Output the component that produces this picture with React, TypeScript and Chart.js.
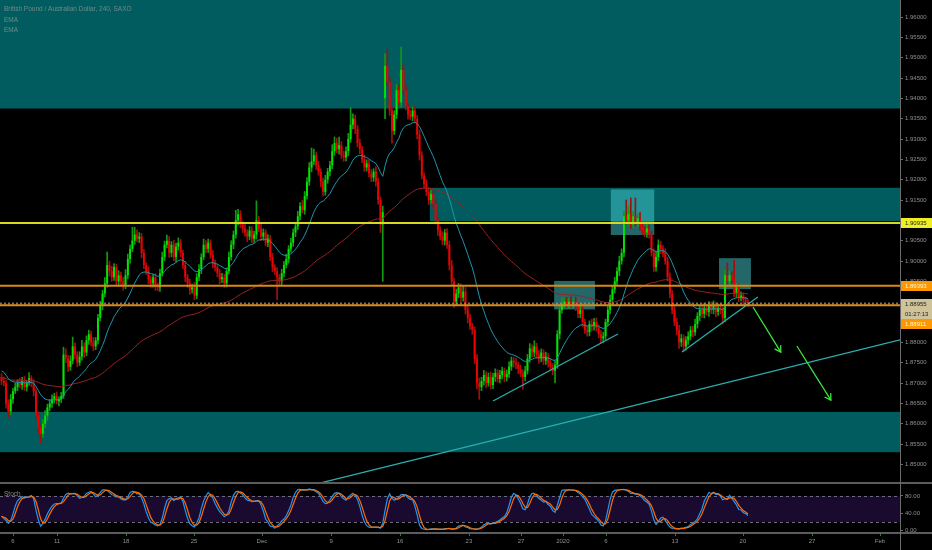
import React, { useEffect, useRef } from 'react';
import { Chart, registerables } from 'chart.js';
Chart.register(...registerables);

// ---------- data (4H GBP/AUD, SAXO) ----------
const FIRST_OPEN = 1.8715;
const CLOSES = [
  1.8705, 1.8700, 1.8650, 1.8630, 1.8660, 1.8680, 1.8690, 1.8700, 1.8695, 1.8705,
  1.8690, 1.8700, 1.8712, 1.8700, 1.8680, 1.8620, 1.8590, 1.8575, 1.8600, 1.8620,
  1.8640, 1.8650, 1.8660, 1.8668, 1.8655, 1.8660, 1.8668, 1.8770, 1.8760, 1.8740,
  1.8755, 1.8790, 1.8770, 1.8750, 1.8765, 1.8790, 1.8775, 1.8805, 1.8820, 1.8800,
  1.8790, 1.8805, 1.8860, 1.8890, 1.8920, 1.8945, 1.8990, 1.8975, 1.8960, 1.8985,
  1.8950, 1.8965, 1.8950, 1.8940, 1.8965, 1.9005, 1.9030, 1.9050, 1.9065, 1.9055,
  1.9060, 1.9020, 1.8990, 1.8975, 1.8955, 1.8945, 1.8960, 1.8940, 1.8935, 1.8970,
  1.9010, 1.9040, 1.9050, 1.9020, 1.9040, 1.9010, 1.9035, 1.9045, 1.9020, 1.8990,
  1.8960, 1.8945, 1.8930, 1.8935, 1.8915, 1.8960, 1.8980, 1.9010, 1.9040, 1.9030,
  1.9045, 1.9015, 1.8995, 1.8985, 1.8970, 1.8955, 1.8960, 1.8945, 1.8975, 1.9010,
  1.9040, 1.9065, 1.9100, 1.9115, 1.9090, 1.9080, 1.9070, 1.9060, 1.9075, 1.9055,
  1.9065, 1.9100, 1.9080, 1.9060, 1.9070, 1.9045, 1.9055, 1.9010, 1.8985, 1.8975,
  1.8960, 1.8950, 1.8970, 1.8990, 1.9005, 1.9030, 1.9045, 1.9070, 1.9085, 1.9110,
  1.9135, 1.9125, 1.9160, 1.9195, 1.9230, 1.9245, 1.9260, 1.9235, 1.9220, 1.9195,
  1.9170, 1.9200, 1.9220, 1.9235, 1.9270, 1.9290, 1.9275, 1.9285, 1.9260, 1.9255,
  1.9270, 1.9300, 1.9335, 1.9350, 1.9325, 1.9290, 1.9275, 1.9250, 1.9230, 1.9240,
  1.9215, 1.9205, 1.9220, 1.9195, 1.9150, 1.9090, 1.9120, 1.9480, 1.9440, 1.9370,
  1.9320, 1.9360, 1.9420, 1.9390, 1.9470, 1.9420, 1.9380, 1.9360, 1.9355, 1.9370,
  1.9350, 1.9310, 1.9260, 1.9210, 1.9190, 1.9170, 1.9150, 1.9165, 1.9140, 1.9100,
  1.9075, 1.9060, 1.9050, 1.9070, 1.9040, 1.8990, 1.8950, 1.8900, 1.8920, 1.8935,
  1.8910, 1.8925, 1.8880, 1.8860, 1.8840, 1.8830, 1.8760, 1.8700, 1.8690, 1.8705,
  1.8720, 1.8700, 1.8715, 1.8695, 1.8715, 1.8725, 1.8710, 1.8720, 1.8730, 1.8715,
  1.8722, 1.8740, 1.8755, 1.8750, 1.8745, 1.8735, 1.8725, 1.8715, 1.8730, 1.8760,
  1.8785, 1.8775, 1.8790, 1.8770, 1.8760, 1.8775, 1.8755, 1.8765, 1.8750, 1.8740,
  1.8730, 1.8745, 1.8820, 1.8880, 1.8895, 1.8900, 1.8895, 1.8900, 1.8895, 1.8900,
  1.8890, 1.8870, 1.8880, 1.8850, 1.8830, 1.8825, 1.8845, 1.8840, 1.8850, 1.8835,
  1.8820, 1.8810, 1.8815, 1.8850, 1.8880, 1.8905, 1.8930, 1.8950, 1.8975, 1.9000,
  1.9020, 1.9110, 1.9100, 1.9115, 1.9090, 1.9110, 1.9095, 1.9105, 1.9085, 1.9075,
  1.9070, 1.9080, 1.9065, 1.9020, 1.8985, 1.9010, 1.9040, 1.9030, 1.9020, 1.9000,
  1.8960, 1.8920, 1.8880, 1.8850, 1.8830, 1.8800, 1.8810, 1.8790, 1.8805, 1.8815,
  1.8830, 1.8825, 1.8845, 1.8865, 1.8880, 1.8870, 1.8885, 1.8875, 1.8890, 1.8880,
  1.8890, 1.8875, 1.8885, 1.8880, 1.8860, 1.8965, 1.8950, 1.8965, 1.8955, 1.8920,
  1.8935, 1.8910, 1.8915, 1.8905, 1.8900, 1.88955,
];
// wick lengths beyond the body, in pips
const UP_WICK_PIPS = [
  8,10,6,9,12,7,10,8,12,9, 11,7,14,6,8,5,9,7,10,12, 8,9,11,7,10,6,9,18,14,8,
  12,23,9,7,12,15,9,11,10,8, 12,7,9,11,8,14,32,10,12,9, 7,11,8,10,14,12,9,33,18,12,
  10,8,9,6,11,8,7,9,6,10, 12,9,14,10,8,11,9,12,8,6, 9,7,10,8,12,9,11,8,14,10,
  9,7,11,8,6,9,10,7,8,12, 10,9,25,12,9,8,11,7,10,9, 8,48,10,12,9,7,10,8,9,6,
  8,7,10,9,12,8,11,9,10,12, 9,14,11,10,12,33,15,8,10,7, 9,11,8,10,16,15,12,20,9,10,
  11,14,42,12,9,8,10,7,11,9, 8,10,7,12,9,8,15,30,40,12, 9,10,14,12,56,15,10,8,11,9,
  10,8,12,9,7,10,11,9,8,10, 7,9,12,8,10,9,12,8,11,10, 9,12,10,8,9,7,8,10,12,9,
  11,8,10,12,9,10,8,11,9,7, 10,12,9,8,10,7,9,8,11,10, 12,9,14,8,10,9,7,11,8,9,
  8,10,9,12,15,9,10,8,12,9, 11,8,10,9,7,10,8,12,9,10, 8,9,10,7,9,11,8,10,9,12,
  10,12,40,20,40,12,45,10,15,9, 10,12,9,8,10,14,12,9,8,10, 9,11,8,10,9,12,10,8,9,11,
  9,10,12,8,10,9,11,8,10,9, 12,8,10,9,7,12,30,10,9,47, 10,8,9,7,6,5,
];
const DOWN_WICK_PIPS = [
  9,7,12,15,8,10,6,9,7,11, 8,10,6,9,12,10,14,23,8,10, 12,8,10,9,7,11,8,6,10,12,
  9,8,11,10,7,9,12,8,10,9, 11,8,9,7,10,8,9,12,10,8, 11,9,10,12,8,9,10,7,9,8,
  10,12,9,8,11,10,9,12,8,10, 7,9,8,11,10,9,12,8,10,9, 11,10,12,9,10,8,9,11,7,10,
  9,8,12,10,9,11,8,10,9,7, 8,10,9,11,8,10,9,12,8,10, 9,11,8,10,9,8,10,9,11,8,
  55,10,8,9,7,10,8,9,10,8, 9,7,10,8,9,11,8,10,9,12, 10,8,9,11,8,10,9,12,8,10,
  9,11,8,10,12,9,11,8,10,9, 8,10,9,11,10,20,140,50,10,12, 30,9,10,8,12,10,9,11,8,10,
  9,10,12,8,10,9,11,8,10,9, 12,8,10,11,9,12,10,14,9,10, 11,9,10,12,8,10,12,15,30,9,
  10,12,8,10,9,11,8,10,9,12, 10,8,9,11,10,12,9,30,10,8, 9,11,10,9,12,8,10,9,11,8,
  10,30,9,12,8,10,9,11,8,10, 12,9,10,11,8,10,9,12,10,8, 9,11,10,8,9,10,12,9,10,11,
  8,10,9,12,10,8,9,11,10,9, 10,12,9,8,11,10,9,12,10,8, 9,11,10,9,12,15,10,12,9,10,
  9,11,8,10,12,9,10,8,11,9, 10,12,9,10,15,10,9,11,10,8, 9,10,8,11,9,7,
];
const GAP_OPENS: Record<number, number> = { 167: 1.9400 };
const PIP = 0.0001;

// x axis = bar index; date labels at session starts
const DATE_TICK_POS = [5.0, 24.2, 54.2, 83.8, 113.4, 143.5, 173.5, 203.5, 226.2, 244.4, 263.2, 293.2, 322.8, 352.9, 382.5];
const DATE_TICK_LABELS = ['6', '11', '18', '25', 'Dec', '9', '16', '23', '27', '2020', '6', '13', '20', '27', 'Feb'];
const PRICE_TICKS = [1.85, 1.855, 1.86, 1.865, 1.87, 1.875, 1.88, 1.885, 1.89, 1.895, 1.9, 1.905, 1.91, 1.915, 1.92, 1.925, 1.93, 1.935, 1.94, 1.945, 1.95, 1.955, 1.96];
const STOCH_TICKS = [0, 40, 80];
const STOCH_BAND = [20, 80];

const EMA_FAST = 20, EMA_SLOW = 100;
const EMA_FAST_SEED = 1.8732, EMA_SLOW_SEED = 1.8712;
const STOCH_K = 14, STOCH_SMOOTH = 3, STOCH_D = 3;

const LEVEL_YELLOW = 1.90935;
const LEVEL_ORANGE = [1.89393, 1.88911];
const COUNTDOWN = '01:27:13';

// [xStart, xEnd, low, high]
const ZONES = [
  [-5, 420, 1.9375, 1.975],
  [186.5, 420, 1.9098, 1.9180],
  [-5, 420, 1.8530, 1.8629],
];
const BOXES = [
  [240.6, 258.4, 1.8881, 1.8951],
  [265.3, 284.2, 1.9064, 1.9176],
  [312.4, 326.3, 1.8931, 1.9007],
];
const TREND_LINES = [
  [[130, 1.8442], [391.2, 1.8806]],
  [[214.0, 1.86558], [268.4, 1.88206]],
  [[296.3, 1.87763], [329.3, 1.89115]],
];
const ARROWS = [
  [[327.2, 1.8887], [339.3, 1.8776]],
  [[346.3, 1.8791], [361.1, 1.8658]],
];

const X_MIN = -0.65, X_MAX = 391.2;
const Y_MIN = 1.84542, Y_MAX = 1.96418;
const S_MIN = -5.4, S_MAX = 110;

// ---------- derived ----------
const OPENS = CLOSES.map((c, i) => GAP_OPENS[i] ?? (i === 0 ? FIRST_OPEN : CLOSES[i - 1]));
const HIGHS = CLOSES.map((c, i) => Math.max(OPENS[i], c) + UP_WICK_PIPS[i] * PIP);
const LOWS = CLOSES.map((c, i) => Math.min(OPENS[i], c) - DOWN_WICK_PIPS[i] * PIP);

function ema(vals: number[], period: number, seed: number) {
  const k = 2 / (period + 1);
  let e = seed;
  return vals.map((v) => (e += k * (v - e)));
}
function sma(a: number[], n: number) {
  return a.map((_, i) => {
    const s = Math.max(0, i - n + 1);
    let t = 0;
    for (let j = s; j <= i; j++) t += a[j];
    return t / (i - s + 1);
  });
}
function rawStoch(c: number[], h: number[], l: number[], n: number) {
  return c.map((v, i) => {
    const s = Math.max(0, i - n + 1);
    let hh = -Infinity, ll = Infinity;
    for (let j = s; j <= i; j++) { hh = Math.max(hh, h[j]); ll = Math.min(ll, l[j]); }
    return hh > ll ? (100 * (v - ll)) / (hh - ll) : 50;
  });
}

const FONT = '"Liberation Sans", Arial, sans-serif';
const UP_BODY = '#00e600', DN_BODY = '#f00000';
const UP_WICK = '#109a10', DN_WICK = '#a01010';

const decor = {
  id: 'decor',
  beforeDraw(chart: any) {
    const { ctx, width, height } = chart;
    ctx.save();
    ctx.fillStyle = '#000';
    ctx.fillRect(0, 0, width, height);
    ctx.restore();
  },
  beforeDatasetsDraw(chart: any) {
    const { ctx } = chart;
    const x = chart.scales.x, y = chart.scales.y, s = chart.scales.ys;
    ctx.save();
    ctx.beginPath();
    ctx.rect(x.left, y.top, x.right - x.left, y.bottom - y.top);
    ctx.clip();
    const rect = (b: number[], color: string) => {
      const x0 = x.getPixelForValue(b[0]), x1 = x.getPixelForValue(b[1]);
      const y0 = y.getPixelForValue(b[3]), y1 = y.getPixelForValue(b[2]);
      ctx.fillStyle = color;
      ctx.fillRect(x0, y0, x1 - x0, y1 - y0);
    };
    ZONES.forEach((z) => rect(z, 'rgb(0,92,94)'));
    BOXES.forEach((b) => rect(b, 'rgba(70,205,210,0.5)'));
    ctx.restore();

    ctx.save();
    const b80 = s.getPixelForValue(STOCH_BAND[1]), b20 = s.getPixelForValue(STOCH_BAND[0]);
    ctx.fillStyle = 'rgb(27,10,48)';
    ctx.fillRect(x.left, b80, x.right - x.left, b20 - b80);
    ctx.strokeStyle = '#6e6e78';
    ctx.lineWidth = 1;
    ctx.setLineDash([3, 3]);
    [b80, b20].forEach((yy) => {
      ctx.beginPath();
      ctx.moveTo(x.left, Math.round(yy) + 0.5);
      ctx.lineTo(x.right, Math.round(yy) + 0.5);
      ctx.stroke();
    });
    ctx.restore();
  },
  afterDatasetsDraw(chart: any) {
    const { ctx } = chart;
    const x = chart.scales.x, y = chart.scales.y;
    ctx.save();
    ctx.beginPath();
    ctx.rect(x.left, y.top, x.right - x.left, y.bottom - y.top);
    ctx.clip();
    const hline = (v: number, color: string, w: number, dash: number[]) => {
      const yy = y.getPixelForValue(v);
      ctx.strokeStyle = color;
      ctx.lineWidth = w;
      ctx.setLineDash(dash);
      ctx.beginPath();
      ctx.moveTo(x.left, yy);
      ctx.lineTo(x.right, yy);
      ctx.stroke();
    };
    hline(CLOSES[CLOSES.length - 1], 'rgba(150,150,150,0.75)', 2, [2, 2]);
    hline(LEVEL_YELLOW, '#d8d820', 2, []);
    LEVEL_ORANGE.forEach((v) => hline(v, '#d98a14', 2, []));
    ctx.setLineDash([]);
    // arrow heads
    chart.data.datasets.forEach((ds: any, i: number) => {
      if (!String(ds.label).startsWith('arrow')) return;
      const pts = chart.getDatasetMeta(i).data;
      const p0 = pts[0], p1 = pts[1];
      const a = Math.atan2(p1.y - p0.y, p1.x - p0.x);
      const L = 7;
      ctx.strokeStyle = ds.borderColor;
      ctx.lineWidth = 1.3;
      ctx.beginPath();
      ctx.moveTo(p1.x + L * Math.cos(a + 2.6), p1.y + L * Math.sin(a + 2.6));
      ctx.lineTo(p1.x, p1.y);
      ctx.lineTo(p1.x + L * Math.cos(a - 2.6), p1.y + L * Math.sin(a - 2.6));
      ctx.stroke();
    });
    ctx.restore();
  },
  afterDraw(chart: any) {
    const { ctx, width, height } = chart;
    const x = chart.scales.x, y = chart.scales.y, s = chart.scales.ys;
    ctx.save();
    // panel separators
    ctx.strokeStyle = '#5c5c5c';
    ctx.lineWidth = 2;
    [y.bottom, s.bottom].forEach((yy) => {
      ctx.beginPath();
      ctx.moveTo(0, yy);
      ctx.lineTo(width, yy);
      ctx.stroke();
    });
    ctx.lineWidth = 1;
    ctx.strokeStyle = '#6b6b6b';
    ctx.beginPath();
    ctx.moveTo(x.right + 0.5, 0);
    ctx.lineTo(x.right + 0.5, height);
    ctx.stroke();
    // time tick marks
    ctx.fillStyle = '#2f7f2f';
    DATE_TICK_POS.forEach((v) => ctx.fillRect(Math.round(x.getPixelForValue(v)), s.bottom + 1, 1, 2));

    // price tags
    ctx.font = `6px ${FONT}`;
    ctx.textBaseline = 'middle';
    ctx.textAlign = 'left';
    const tag = (yy: number, text: string, bg: string, fg: string) => {
      ctx.fillStyle = bg;
      ctx.fillRect(x.right + 1, Math.round(yy) - 5, width - x.right - 1, 10);
      ctx.fillStyle = fg;
      ctx.fillText(text, x.right + 5, Math.round(yy));
    };
    tag(y.getPixelForValue(LEVEL_YELLOW), LEVEL_YELLOW.toFixed(5), '#eeee22', '#222');
    tag(y.getPixelForValue(LEVEL_ORANGE[0]), LEVEL_ORANGE[0].toFixed(5), '#ff9800', '#fff8d0');
    const last = CLOSES[CLOSES.length - 1];
    const cy = y.getPixelForValue(last);
    tag(cy, last.toFixed(5), '#cfc39a', '#222');
    tag(cy + 10, COUNTDOWN, '#cfc39a', '#222');
    tag(Math.max(y.getPixelForValue(LEVEL_ORANGE[1]), cy + 20), LEVEL_ORANGE[1].toFixed(5), '#ff9800', '#fff8d0');

    // legend texts
    ctx.fillStyle = 'rgba(135,145,145,0.85)';
    ctx.font = `6.5px ${FONT}`;
    ctx.fillText('British Pound / Australian Dollar, 240, SAXO', 4, 9.5);
    ctx.fillText('EMA', 4, 20);
    ctx.fillText('EMA', 4, 30);
    ctx.fillStyle = '#8a8a8a';
    ctx.fillText('Stoch', 4, s.top + 11);
    ctx.restore();
  },
};

export default function App() {
  const ref = useRef<HTMLCanvasElement>(null);
  useEffect(() => {
    document.body.style.margin = '0';
    document.body.style.background = '#000';
    const emaFast = ema(CLOSES, EMA_FAST, EMA_FAST_SEED);
    const emaSlow = ema(CLOSES, EMA_SLOW, EMA_SLOW_SEED);
    const k = sma(rawStoch(CLOSES, HIGHS, LOWS, STOCH_K), STOCH_SMOOTH);
    const d = sma(k, STOCH_D);
    const up = CLOSES.map((c, i) => c >= OPENS[i]);

    const line = (pts: number[][], color: string, label: string, order: number, w = 1.2) => ({
      type: 'line' as const,
      label,
      data: pts.map((p) => ({ x: p[0], y: p[1] })),
      borderColor: color,
      borderWidth: w,
      pointRadius: 0,
      yAxisID: 'y',
      order,
    });

    const chart = new Chart(ref.current as HTMLCanvasElement, {
      type: 'bar',
      data: {
        datasets: [
          {
            type: 'bar',
            label: 'wicks',
            data: CLOSES.map((_, i) => ({ x: i, y: [LOWS[i], HIGHS[i]] })) as any,
            backgroundColor: up.map((u) => (u ? UP_WICK : DN_WICK)),
            barThickness: 1,
            grouped: false,
            yAxisID: 'y',
            order: 6,
          },
          {
            type: 'bar',
            label: 'bodies',
            data: CLOSES.map((c, i) => ({ x: i, y: [OPENS[i], c] })) as any,
            backgroundColor: up.map((u) => (u ? UP_BODY : DN_BODY)),
            barPercentage: 0.9,
            categoryPercentage: 0.92,
            minBarLength: 1,
            grouped: false,
            yAxisID: 'y',
            order: 5,
          },
          {
            type: 'line',
            label: 'ema slow',
            data: emaSlow.map((v, i) => ({ x: i, y: v })),
            borderColor: '#9a2222',
            borderWidth: 1,
            pointRadius: 0,
            yAxisID: 'y',
            order: 4,
          },
          {
            type: 'line',
            label: 'ema fast',
            data: emaFast.map((v, i) => ({ x: i, y: v })),
            borderColor: '#1d97ab',
            borderWidth: 1,
            pointRadius: 0,
            yAxisID: 'y',
            order: 3,
          },
          ...TREND_LINES.map((t, i) => line(t, '#2aaeb0', 'trend' + i, 2, 1.3)),
          ...ARROWS.map((t, i) => line(t, '#3ae83a', 'arrow' + i, 1, 1.3)),
          {
            type: 'line',
            label: 'stoch k',
            data: k.map((v, i) => ({ x: i, y: v })),
            borderColor: '#2196f3',
            borderWidth: 1.2,
            pointRadius: 0,
            yAxisID: 'ys',
            order: 1,
          },
          {
            type: 'line',
            label: 'stoch d',
            data: d.map((v, i) => ({ x: i, y: v })),
            borderColor: '#ff6d00',
            borderWidth: 1.2,
            pointRadius: 0,
            yAxisID: 'ys',
            order: 0,
          },
        ] as any,
      },
      options: {
        responsive: false,
        animation: false,
        events: [],
        layout: { padding: 0 },
        plugins: { legend: { display: false }, tooltip: { enabled: false } },
        scales: {
          x: {
            type: 'linear',
            position: 'bottom',
            min: X_MIN,
            max: X_MAX,
            offset: false,
            grid: { display: false, drawTicks: false },
            border: { display: false },
            ticks: {
              autoSkip: false,
              maxRotation: 0,
              padding: 5,
              color: '#909090',
              font: { size: 6, family: FONT },
              callback: (_v: any, idx: number) => DATE_TICK_LABELS[idx],
            },
            afterBuildTicks: (sc: any) => { sc.ticks = DATE_TICK_POS.map((v) => ({ value: v })); },
            afterFit: (sc: any) => { sc.height = 17; sc.paddingLeft = 0; sc.paddingRight = 0; },
          },
          y: {
            type: 'linear',
            position: 'right',
            stack: 'right',
            stackWeight: 483,
            min: Y_MIN,
            max: Y_MAX,
            grid: { display: true, drawOnChartArea: false, drawTicks: true, tickLength: 3, color: '#6b6b6b' },
            border: { display: true, color: '#6b6b6b' },
            ticks: {
              padding: 2,
              color: '#909090',
              font: { size: 6, family: FONT },
              callback: (v: any) => Number(v).toFixed(5),
            },
            afterBuildTicks: (sc: any) => { sc.ticks = PRICE_TICKS.map((v) => ({ value: v })); },
            afterFit: (sc: any) => { sc.width = 32; sc.paddingTop = 0; sc.paddingBottom = 0; },
          },
          ys: {
            type: 'linear',
            position: 'right',
            stack: 'right',
            stackWeight: 50,
            min: S_MIN,
            max: S_MAX,
            grid: { display: true, drawOnChartArea: false, drawTicks: true, tickLength: 3, color: '#6b6b6b' },
            border: { display: true, color: '#6b6b6b' },
            ticks: {
              padding: 2,
              color: '#909090',
              font: { size: 6, family: FONT },
              callback: (v: any) => Number(v).toFixed(2),
            },
            afterBuildTicks: (sc: any) => { sc.ticks = STOCH_TICKS.map((v) => ({ value: v })); },
            afterFit: (sc: any) => { sc.width = 32; sc.paddingTop = 0; sc.paddingBottom = 0; },
          },
        },
      } as any,
      plugins: [decor],
    });
    return () => chart.destroy();
  }, []);
  return (
    <div style={{ width: 932, height: 550, position: 'relative', background: '#000' }}>
      <canvas ref={ref} width={932} height={550} style={{ display: 'block', width: 932, height: 550 }} />
    </div>
  );
}
